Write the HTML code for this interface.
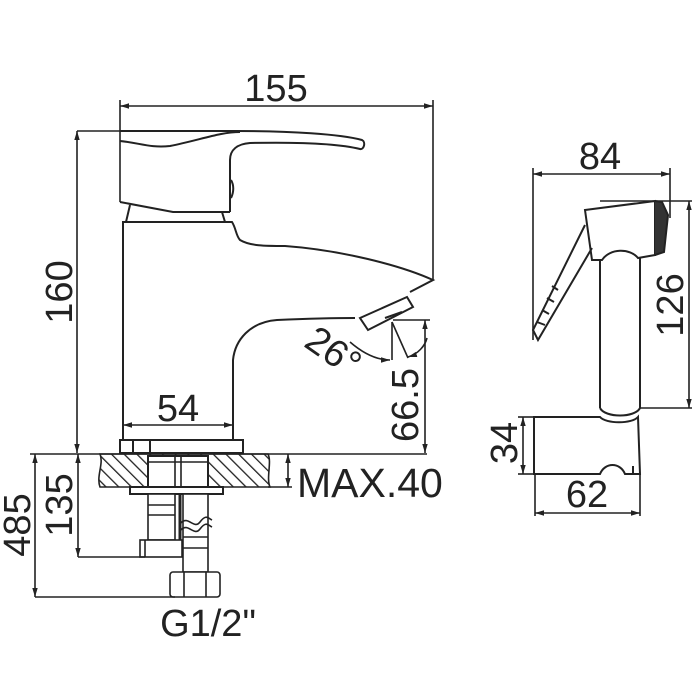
<!DOCTYPE html>
<html><head><meta charset="utf-8"><style>html,body{margin:0;padding:0;background:#fff}svg{display:block}text{font-family:"Liberation Sans",Arial,sans-serif;fill:#222}</style></head>
<body>
<svg width="700" height="700" viewBox="0 0 700 700" xmlns="http://www.w3.org/2000/svg">
<defs>
<marker id="a" viewBox="0 0 10 10" refX="10" refY="5" markerWidth="9" markerHeight="9" orient="auto-start-reverse" markerUnits="userSpaceOnUse"><path d="M0,2 L10,5 L0,8z" fill="#222"/></marker>
<pattern id="h" patternUnits="userSpaceOnUse" width="9" height="9" patternTransform="rotate(-45)"><line x1="0" y1="0" x2="0" y2="9" stroke="#222" stroke-width="2.6"/></pattern>
</defs>
<g fill="none" stroke="#222" stroke-width="1.6">
<line x1="120" y1="106" x2="433" y2="106" marker-start="url(#a)" marker-end="url(#a)"/>
<line x1="120" y1="100" x2="120" y2="202"/>
<line x1="433" y1="100" x2="433" y2="280"/>
<line x1="77" y1="131" x2="77" y2="453" marker-start="url(#a)" marker-end="url(#a)"/>
<line x1="77" y1="131" x2="240" y2="131"/>
<g stroke-width="2">
<path d="M120,131 L235,131 C290,131 340,134 362,140 C366,142 364,150 360,149 C340,144 300,142 250,143 C237,144 230,150 230,160 L230,212"/>
<path d="M120,141 C140,143 150,148 170,146 C200,140 220,132 240,132"/>
<path d="M120,202 L173,212 L230,212"/>
<path d="M231,180 C234,185 234,192 231,198"/>
<path d="M130,205 L126,222 M222,212 L225,222"/>
<path d="M123,440 L123,222 L232,222 C236,228 236,236 240,240 C250,246 265,246 285,246 C340,250 400,265 433,280 L410,292"/>
<path d="M355,318 C330,318 300,319 277,320 C250,322 235,340 233,360 L233,440"/>
<path d="M360,318 L407,297 L413,307 L368,330 Z"/>
<path d="M385,318 L402,312"/>
<rect x="120" y="440" width="123" height="13"/>
<line x1="133" y1="440" x2="133" y2="453"/><line x1="150" y1="440" x2="150" y2="453"/>
</g>
<line x1="123" y1="425" x2="233" y2="425" marker-start="url(#a)" marker-end="url(#a)"/>
<line x1="425" y1="320" x2="425" y2="453" marker-start="url(#a)" marker-end="url(#a)"/>
<line x1="393" y1="320" x2="430" y2="320"/>
<line x1="392" y1="322" x2="392" y2="360"/>
<line x1="392" y1="322" x2="408" y2="358"/>
<path d="M350,342 C365,355 378,360 390,360" marker-end="url(#a)"/>
<path d="M408,357 C418,354 425,346 427,338" marker-start="url(#a)"/>
<line x1="30" y1="454" x2="427" y2="454"/>
<path d="M100,454 L268,454 C272,462 266,478 270,487 L100,487 C96,476 104,464 100,454 Z" fill="url(#h)"/>
<rect x="148" y="456" width="60" height="31" fill="#fff" stroke-width="2"/>
<line x1="175" y1="456" x2="175" y2="487"/><line x1="181" y1="456" x2="181" y2="487"/>
<line x1="148" y1="462" x2="208" y2="462"/>
<rect x="130" y="487" width="93" height="7" fill="#fff" stroke-width="2"/>
<rect x="148" y="494" width="27" height="46" fill="#fff"/>
<line x1="148" y1="505" x2="175" y2="505"/><line x1="148" y1="515" x2="175" y2="515"/>
<rect x="140" y="540" width="42" height="17" fill="#fff"/>
<line x1="145" y1="540" x2="145" y2="557"/>
<line x1="180" y1="494" x2="180" y2="540" stroke-width="3"/>
<rect x="183" y="494" width="25" height="78" fill="#fff"/>
<line x1="183" y1="537" x2="208" y2="537"/><line x1="183" y1="548" x2="208" y2="548"/>
<path d="M181,523 C188,515 194,530 200,522 S208,518 212,520"/>
<path d="M181,530 C188,522 194,537 200,529 S208,525 212,527"/>
<rect x="170" y="572" width="50" height="25" fill="#fff" rx="3"/>
<line x1="184" y1="572" x2="184" y2="597"/><line x1="206" y1="572" x2="206" y2="597"/>
<line x1="288" y1="454" x2="288" y2="487" marker-start="url(#a)" marker-end="url(#a)"/>
<line x1="268" y1="487" x2="292" y2="487"/>
<line x1="78" y1="454" x2="78" y2="557" marker-start="url(#a)" marker-end="url(#a)"/>
<line x1="78" y1="557" x2="145" y2="557"/>
<line x1="35" y1="454" x2="35" y2="597" marker-start="url(#a)" marker-end="url(#a)"/>
<line x1="35" y1="597" x2="175" y2="597"/>
<line x1="533" y1="174" x2="670" y2="174" marker-start="url(#a)" marker-end="url(#a)"/>
<line x1="533" y1="168" x2="533" y2="340"/>
<line x1="670" y1="168" x2="670" y2="218"/>
<line x1="689" y1="201" x2="689" y2="408" marker-start="url(#a)" marker-end="url(#a)"/>
<line x1="600" y1="201" x2="692" y2="201"/>
<line x1="640" y1="408" x2="692" y2="408"/>
<g stroke-width="2">
<path d="M585,210 L655,201 L655,255 L638,258 C630,248 610,248 602,260 L592,260 L585,210 Z"/>
<path d="M655,201 L662,202 L668,215 L664,252 L655,255" fill="#333"/>
<path d="M600,260 L600,408 M640,258 L640,408"/>
<path d="M600,408 C605,418 635,418 640,408"/>
<path d="M585,225 L533,330 L538,340 L592,248"/>
<path d="M537,322 L545,325 M542,310 L549,314 M547,298 L554,302 M552,286 L558,290"/>
<path d="M534,417 L600,417 C606,424 632,424 638,417 L640,474 L625,474 C620,462 605,462 600,474 L534,474 Z"/>
<line x1="633" y1="466" x2="633" y2="474"/>
</g>
<line x1="523" y1="417" x2="523" y2="474" marker-start="url(#a)" marker-end="url(#a)"/>
<line x1="518" y1="417" x2="534" y2="417"/>
<line x1="518" y1="474" x2="534" y2="474"/>
<line x1="535" y1="474" x2="535" y2="516"/>
<line x1="640" y1="474" x2="640" y2="516"/>
<line x1="535" y1="513" x2="640" y2="513" marker-start="url(#a)" marker-end="url(#a)"/>
</g>
<g font-size="38">
<text x="276" y="101" text-anchor="middle">155</text>
<text x="600" y="169" text-anchor="middle">84</text>
<text x="178" y="421" text-anchor="middle">54</text>
<text x="587" y="507" text-anchor="middle">62</text>
<text x="297" y="497" font-size="41">MAX.40</text>
<text x="208" y="636" text-anchor="middle">G1/2"</text>
<text transform="translate(72,292) rotate(-90)" text-anchor="middle">160</text>
<text transform="translate(418,405) rotate(-90)" text-anchor="middle">66.5</text>
<text transform="translate(72,505) rotate(-90)" text-anchor="middle">135</text>
<text transform="translate(30,525) rotate(-90)" text-anchor="middle">485</text>
<text transform="translate(683,305) rotate(-90)" text-anchor="middle">126</text>
<text transform="translate(517,443) rotate(-90)" text-anchor="middle">34</text>
<text transform="translate(326,362) rotate(35)" text-anchor="middle">26°</text>
</g>
</svg>
</body></html>
